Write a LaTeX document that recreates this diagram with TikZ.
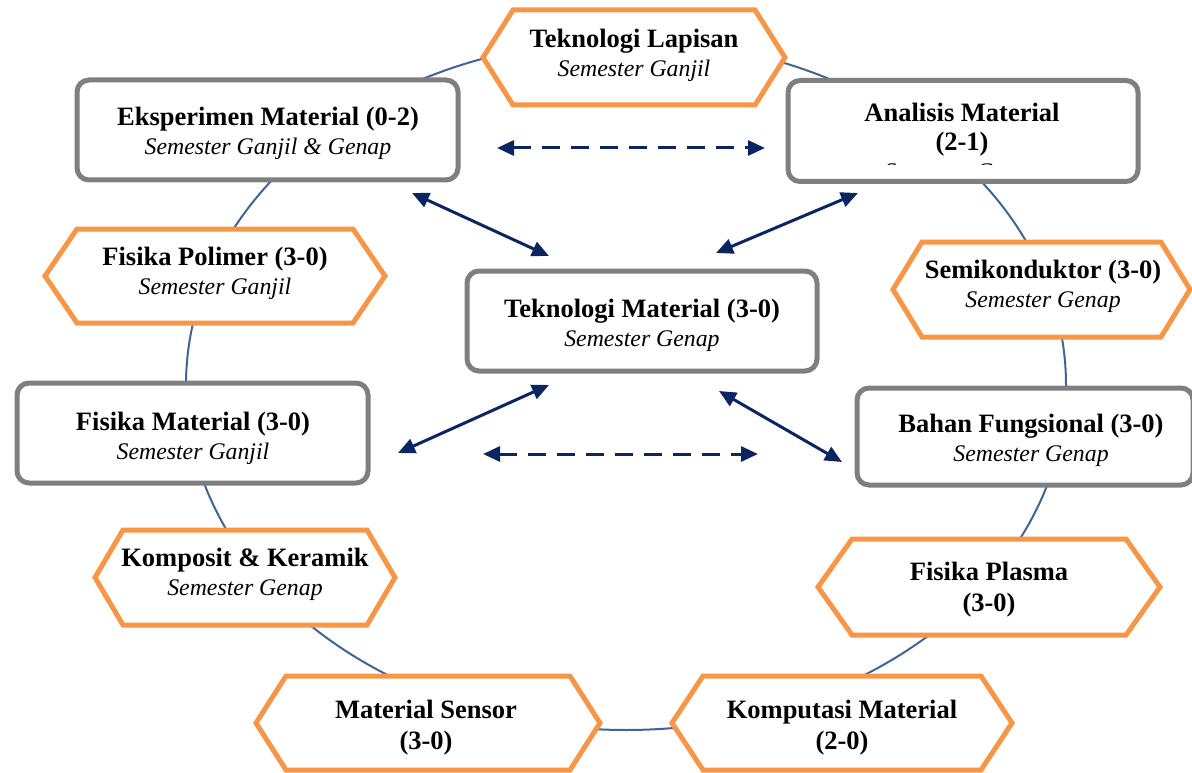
\documentclass[tikz,border=0pt]{standalone}
\usepackage{fontspec}
\setmainfont{Liberation Serif}
\usetikzlibrary{arrows.meta}

\definecolor{hexorange}{HTML}{F79646}
\definecolor{boxgray}{HTML}{7F7F7F}
\definecolor{arrownavy}{HTML}{0B2462}
\definecolor{ringblue}{HTML}{3D6597}

\pgfdeclarelayer{ring}
\pgfdeclarelayer{shapes}
\pgfsetlayers{ring,shapes,main}

% title line and semester line
\newcommand\hd[1]{{\fontsize{26.5}{29}\selectfont\bfseries #1}}
\newcommand\sm[1]{{\fontsize{23.8}{29}\selectfont\itshape #1}}

% hexagon: name, cx, cy, width, height, indent
\newcommand\hexnode[6]{%
  \node[hexshape, minimum width=#4pt, minimum height=#5pt] (#1) at (#2,#3) {};
  \begin{pgfonlayer}{shapes}
    \draw[hexline] (#1.west) -- ([xshift=#6pt]#1.north west) -- ([xshift=-#6pt]#1.north east)
      -- (#1.east) -- ([xshift=-#6pt]#1.south east) -- ([xshift=#6pt]#1.south west) -- cycle;
  \end{pgfonlayer}%
}

\tikzset{
  hexshape/.style={inner sep=0pt, outer sep=0pt},
  hexline/.style={draw=hexorange, line width=5pt, fill=white, line join=miter},
  boxshape/.style={draw=boxgray, line width=5pt, fill=white, rounded corners=12pt, inner sep=0pt},
  txt/.style={align=center, inner sep=0pt, font=\fontsize{26.5}{29}\selectfont},
  ringline/.style={draw=ringblue, line width=2pt},
  link/.style={draw=arrownavy, line width=3pt,
    {Triangle[length=17pt,width=15pt]}-{Triangle[length=17pt,width=15pt]}},
  dashlink/.style={link, dash pattern=on 18pt off 11pt},
}

\begin{document}
\begin{tikzpicture}[x=1pt, y=-1pt]
\useasboundingbox (0,0) rectangle (1192,773);
\clip (0,0) rectangle (1192,773);

% ring linking the courses
\begin{pgfonlayer}{ring}
  \draw[ringline] (626,385) ellipse [x radius=440pt, y radius=345pt];
\end{pgfonlayer}

% elective courses (hexagons)
\hexnode{tlap}{634}{57.5}{302}{95}{30}
\hexnode{fpol}{215}{276}{340}{94}{32}
\hexnode{semi}{1041.5}{289.5}{297}{95}{29}
\hexnode{komp}{245}{577.5}{300}{95}{28}
\hexnode{fpla}{989}{587}{342}{96}{34}
\hexnode{msen}{428}{723}{344}{94}{30}
\hexnode{kmat}{842}{723}{340}{94}{31}

\node[txt] (tlap-t) at (634,55) {\hd{Teknologi Lapisan}\\\sm{Semester Ganjil}};
\node[txt] (fpol-t) at (215,273.5) {\hd{Fisika Polimer (3-0)}\\\sm{Semester Ganjil}};
\node[txt] (semi-t) at (1043,286) {\hd{Semikonduktor (3-0)}\\\sm{Semester Genap}};
\node[txt] (komp-t) at (245,574.5) {\hd{Komposit \& Keramik}\\\sm{Semester Genap}};
\node[txt] (fpla-t) at (989,590) {\hd{Fisika Plasma}\\[2pt]\hd{(3-0)}};
\node[txt] (msen-t) at (426,727.5) {\hd{Material Sensor}\\[2pt]\hd{(3-0)}};
\node[txt] (kmat-t) at (842,727.5) {\hd{Komputasi Material}\\[2pt]\hd{(2-0)}};

% core courses (rounded boxes)
\node[boxshape, minimum width=381pt, minimum height=100pt] (eksp) at (267.5,130) {};
\node[boxshape, minimum width=350pt, minimum height=101pt] (amat) at (963,131) {};
\node[boxshape, minimum width=350pt, minimum height=100pt] (tmat) at (642,321) {};
\node[boxshape, minimum width=351pt, minimum height=100pt] (fmat) at (192.5,433) {};
\node[boxshape, minimum width=336pt, minimum height=97pt] (bahan) at (1025,436.5) {};

\node[txt] (eksp-t) at (268,133.5) {\hd{Eksperimen Material (0-2)}\\\sm{Semester Ganjil \& Genap}};
\begin{scope}
  \clip (790,82) rectangle (1136,165);
  \node[txt] (amat-t) at (962,144) {\hd{Analisis Material}\\\hd{(2-1)}\\\sm{Semester Genap}};
\end{scope}
\node[txt] (tmat-t) at (642,325.5) {\hd{Teknologi Material (3-0)}\\\sm{Semester Genap}};
\node[txt] (fmat-t) at (193,438) {\hd{Fisika Material (3-0)}\\\sm{Semester Ganjil}};
\node[txt] (bahan-t) at (1031,440) {\hd{Bahan Fungsional (3-0)}\\\sm{Semester Genap}};

% arrow ends around the central course
\coordinate (eksp-a) at (412,193);
\coordinate (tmat-nw) at (549,256);
\coordinate (amat-a) at (858,193);
\coordinate (tmat-ne) at (716,253);
\coordinate (fmat-a) at (398,453);
\coordinate (tmat-sw) at (549,385);
\coordinate (bahan-a) at (842,462);
\coordinate (tmat-se) at (719,391);
\coordinate (top-l) at (497,148);
\coordinate (top-r) at (765,148);
\coordinate (bot-l) at (483,454);
\coordinate (bot-r) at (758,454);

\draw[link] (eksp-a) -- (tmat-nw);
\draw[link] (amat-a) -- (tmat-ne);
\draw[link] (fmat-a) -- (tmat-sw);
\draw[link] (bahan-a) -- (tmat-se);
\draw[dashlink] (top-l) -- (top-r);
\draw[dashlink] (bot-l) -- (bot-r);
\end{tikzpicture}
\end{document}
